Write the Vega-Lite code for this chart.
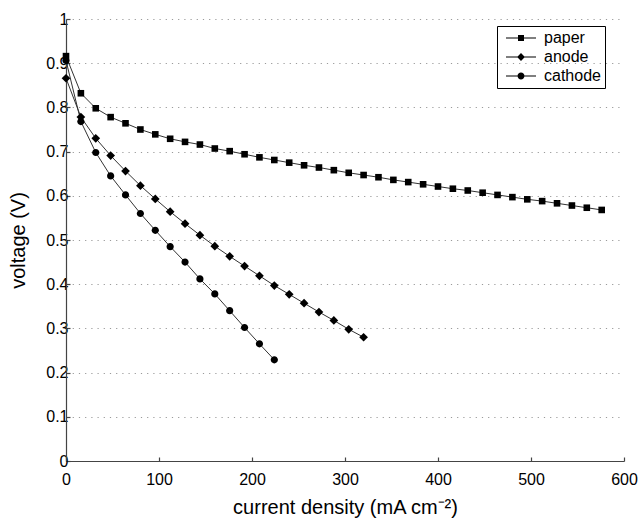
{
  "$schema": "https://vega.github.io/schema/vega-lite/v6.json",
  "width": 558,
  "height": 442,
  "autosize": {"type": "none"},
  "padding": {"left": 66, "top": 19, "right": 16, "bottom": 59},
  "background": "white",
  "config": {"view": {"stroke": null}, "font": "Liberation Sans"},
  "data": {"values": [
    {"series": "paper", "x": 0, "v": 0.916},
    {"series": "paper", "x": 16, "v": 0.832},
    {"series": "paper", "x": 32, "v": 0.798},
    {"series": "paper", "x": 48, "v": 0.778},
    {"series": "paper", "x": 64, "v": 0.764},
    {"series": "paper", "x": 80, "v": 0.750},
    {"series": "paper", "x": 96, "v": 0.739},
    {"series": "paper", "x": 112, "v": 0.729},
    {"series": "paper", "x": 128, "v": 0.722},
    {"series": "paper", "x": 144, "v": 0.716},
    {"series": "paper", "x": 160, "v": 0.707},
    {"series": "paper", "x": 176, "v": 0.701},
    {"series": "paper", "x": 192, "v": 0.694},
    {"series": "paper", "x": 208, "v": 0.687},
    {"series": "paper", "x": 224, "v": 0.681},
    {"series": "paper", "x": 240, "v": 0.675},
    {"series": "paper", "x": 256, "v": 0.669},
    {"series": "paper", "x": 272, "v": 0.664},
    {"series": "paper", "x": 288, "v": 0.658},
    {"series": "paper", "x": 304, "v": 0.652},
    {"series": "paper", "x": 320, "v": 0.647},
    {"series": "paper", "x": 336, "v": 0.642},
    {"series": "paper", "x": 352, "v": 0.636},
    {"series": "paper", "x": 368, "v": 0.631},
    {"series": "paper", "x": 384, "v": 0.626},
    {"series": "paper", "x": 400, "v": 0.621},
    {"series": "paper", "x": 416, "v": 0.616},
    {"series": "paper", "x": 432, "v": 0.612},
    {"series": "paper", "x": 448, "v": 0.607},
    {"series": "paper", "x": 464, "v": 0.602},
    {"series": "paper", "x": 480, "v": 0.597},
    {"series": "paper", "x": 496, "v": 0.592},
    {"series": "paper", "x": 512, "v": 0.588},
    {"series": "paper", "x": 528, "v": 0.583},
    {"series": "paper", "x": 544, "v": 0.578},
    {"series": "paper", "x": 560, "v": 0.573},
    {"series": "paper", "x": 576, "v": 0.568},
    {"series": "anode", "x": 0, "v": 0.866},
    {"series": "anode", "x": 16, "v": 0.778},
    {"series": "anode", "x": 32, "v": 0.730},
    {"series": "anode", "x": 48, "v": 0.691},
    {"series": "anode", "x": 64, "v": 0.656},
    {"series": "anode", "x": 80, "v": 0.623},
    {"series": "anode", "x": 96, "v": 0.593},
    {"series": "anode", "x": 112, "v": 0.564},
    {"series": "anode", "x": 128, "v": 0.537},
    {"series": "anode", "x": 144, "v": 0.511},
    {"series": "anode", "x": 160, "v": 0.486},
    {"series": "anode", "x": 176, "v": 0.463},
    {"series": "anode", "x": 192, "v": 0.441},
    {"series": "anode", "x": 208, "v": 0.419},
    {"series": "anode", "x": 224, "v": 0.397},
    {"series": "anode", "x": 240, "v": 0.377},
    {"series": "anode", "x": 256, "v": 0.357},
    {"series": "anode", "x": 272, "v": 0.337},
    {"series": "anode", "x": 288, "v": 0.318},
    {"series": "anode", "x": 304, "v": 0.298},
    {"series": "anode", "x": 320, "v": 0.280},
    {"series": "cathode", "x": 0, "v": 0.906},
    {"series": "cathode", "x": 16, "v": 0.768},
    {"series": "cathode", "x": 32, "v": 0.698},
    {"series": "cathode", "x": 48, "v": 0.645},
    {"series": "cathode", "x": 64, "v": 0.602},
    {"series": "cathode", "x": 80, "v": 0.560},
    {"series": "cathode", "x": 96, "v": 0.522},
    {"series": "cathode", "x": 112, "v": 0.485},
    {"series": "cathode", "x": 128, "v": 0.450},
    {"series": "cathode", "x": 144, "v": 0.412},
    {"series": "cathode", "x": 160, "v": 0.378},
    {"series": "cathode", "x": 176, "v": 0.340},
    {"series": "cathode", "x": 192, "v": 0.302},
    {"series": "cathode", "x": 208, "v": 0.265},
    {"series": "cathode", "x": 224, "v": 0.229}
  ]},
  "encoding": {
    "x": {
      "field": "x", "type": "quantitative",
      "scale": {"domain": [0, 600], "nice": false},
      "axis": {
        "values": [0, 100, 200, 300, 400, 500, 600],
        "grid": false,
        "domainColor": "#444", "domainWidth": 1.2,
        "tickColor": "#444", "tickSize": -4, "tickWidth": 1.2,
        "labelFontSize": 16, "labelColor": "black", "labelPadding": 14, "labelFlush": false,
        "title": "current density (mA cm⁻²)",
        "titleFontSize": 20, "titleFontWeight": "normal", "titleColor": "black", "titlePadding": 10
      }
    },
    "y": {
      "field": "v", "type": "quantitative",
      "scale": {"domain": [0, 1], "nice": false},
      "axis": {
        "values": [0, 0.1, 0.2, 0.3, 0.4, 0.5, 0.6, 0.7, 0.8, 0.9, 1],
        "format": "~g",
        "grid": true, "gridColor": "#9a9a9a", "gridDash": [1.2, 5], "gridWidth": 1,
        "domainColor": "#444", "domainWidth": 1.2,
        "tickColor": "#444", "tickSize": -4, "tickWidth": 1.2,
        "labelFontSize": 16, "labelColor": "black", "labelPadding": 2, "labelFlush": false,
        "title": "voltage (V)",
        "titleFontSize": 20, "titleFontWeight": "normal", "titleColor": "black", "titlePadding": 17
      }
    }
  },
  "resolve": {"scale": {"shape": "independent"}, "legend": {"shape": "independent"}},
  "layer": [
    {
      "mark": {"type": "line", "color": "#333", "strokeWidth": 1},
      "encoding": {"detail": {"field": "series"}}
    },
    {
      "mark": {"type": "point", "filled": true, "color": "black", "opacity": 1, "size": 36},
      "encoding": {
        "shape": {
          "field": "series", "type": "nominal",
          "scale": {
            "domain": ["paper", "anode", "cathode"],
            "range": [
              "M-1.1,-1.1H1.1V1.1H-1.1Z",
              "M0,-1.45L1.45,0L0,1.45L-1.45,0Z",
              "M1.2,0A1.2,1.2 0 1,1 -1.2,0A1.2,1.2 0 1,1 1.2,0Z"
            ]
          },
          "legend": null
        }
      }
    },
    {
      "mark": {"type": "point", "filled": true, "color": "black", "opacity": 0, "size": 36},
      "encoding": {
        "shape": {
          "field": "series", "type": "nominal",
          "scale": {
            "domain": ["paper", "anode", "cathode"],
            "range": [
              "M-5,-0.17H5V0.17H-5ZM-1,-1H1V1H-1Z",
              "M-5,-0.17H5V0.17H-5ZM0,-1.3L1.3,0L0,1.3L-1.3,0Z",
              "M-5,-0.17H5V0.17H-5ZM1.15,0A1.15,1.15 0 1,1 -1.15,0A1.15,1.15 0 1,1 1.15,0Z"
            ]
          },
          "legend": {
            "orient": "none", "legendX": 431, "legendY": 7,
            "title": null,
            "strokeColor": "black", "padding": 4,
            "labelFontSize": 16, "labelColor": "black",
            "symbolSize": 36, "symbolOpacity": 1,
            "symbolFillColor": "black",
            "symbolOffset": 12, "labelOffset": 15, "rowPadding": 3
          }
        }
      }
    }
  ]
}
